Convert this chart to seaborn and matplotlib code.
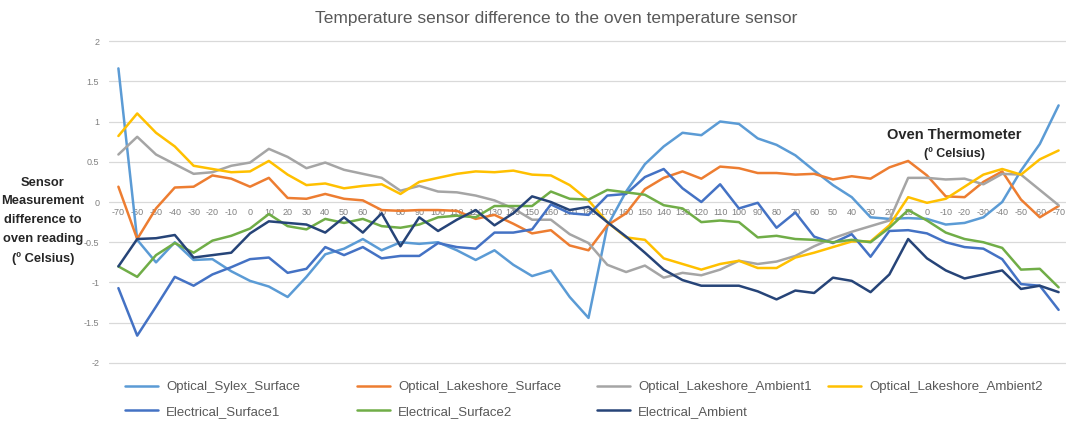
import numpy as np
import pandas as pd
import seaborn as sns
import matplotlib.pyplot as plt

# oven temperature steps: up from -70 to 180, then back down to -70
temps = [-70, -60, -50, -40, -30, -20, -10, 0, 10, 20, 30, 40, 50, 60, 70, 80, 90,
         100, 110, 120, 130, 140, 150, 160, 170, 180,
         170, 160, 150, 140, 130, 120, 110, 100, 90, 80, 70, 60, 50, 40, 30, 20, 10,
         0, -10, -20, -30, -40, -50, -60, -70]

optical_sylex_surface = [1.66, -0.47, -0.75, -0.5, -0.72, -0.71, -0.86, -0.98, -1.05, -1.18,
                         -0.93, -0.65, -0.58, -0.46, -0.6, -0.5, -0.52, -0.5, -0.6, -0.72,
                         -0.6, -0.78, -0.92, -0.85, -1.18, -1.44,
                         -0.3, 0.13, 0.47, 0.69, 0.86, 0.83, 1.0, 0.97, 0.79, 0.71, 0.58, 0.39,
                         0.21, 0.06, -0.19, -0.21, -0.2, -0.21, -0.28, -0.26, -0.19, 0.0, 0.39,
                         0.72, 1.2]
optical_lakeshore_surface = [0.19, -0.46, -0.08, 0.18, 0.19, 0.33, 0.29, 0.19, 0.3, 0.05,
                             0.04, 0.1, 0.04, 0.02, -0.1, -0.11, -0.1, -0.1, -0.11, -0.21,
                             -0.16, -0.27, -0.39, -0.35, -0.54, -0.6,
                             -0.29, -0.14, 0.16, 0.3, 0.38, 0.29, 0.44, 0.42, 0.36, 0.36, 0.34,
                             0.35, 0.28, 0.32, 0.29, 0.43, 0.51, 0.33, 0.07, 0.06, 0.25, 0.38,
                             0.03, -0.19, -0.05]
optical_lakeshore_ambient1 = [0.59, 0.81, 0.59, 0.47, 0.35, 0.37, 0.45, 0.49, 0.66, 0.56,
                              0.42, 0.49, 0.4, 0.35, 0.3, 0.14, 0.2, 0.13, 0.12, 0.08,
                              0.02, -0.08, -0.22, -0.22, -0.4, -0.51,
                              -0.78, -0.87, -0.79, -0.94, -0.88, -0.91, -0.84, -0.73, -0.77,
                              -0.74, -0.67, -0.55, -0.45, -0.37, -0.3, -0.23, 0.3, 0.3, 0.28,
                              0.29, 0.22, 0.35, 0.34, 0.15, -0.04]
optical_lakeshore_ambient2 = [0.82, 1.1, 0.86, 0.69, 0.45, 0.41, 0.37, 0.38, 0.51, 0.34,
                              0.21, 0.23, 0.17, 0.2, 0.22, 0.1, 0.25, 0.3, 0.35, 0.38,
                              0.37, 0.39, 0.34, 0.33, 0.21, 0.02,
                              -0.25, -0.44, -0.47, -0.7, -0.77, -0.84, -0.77, -0.73, -0.82,
                              -0.82, -0.69, -0.63, -0.56, -0.49, -0.49, -0.29, 0.06, -0.01,
                              0.04, 0.19, 0.34, 0.41, 0.34, 0.53, 0.64]
electrical_surface1 = [-1.07, -1.66, -1.3, -0.93, -1.04, -0.9, -0.81, -0.71, -0.69, -0.88,
                       -0.83, -0.56, -0.66, -0.56, -0.7, -0.67, -0.67, -0.51, -0.56, -0.58,
                       -0.38, -0.38, -0.34, -0.03, -0.14, -0.16,
                       0.08, 0.1, 0.31, 0.41, 0.17, 0.0, 0.22, -0.08, -0.01, -0.32, -0.13,
                       -0.43, -0.51, -0.4, -0.68, -0.36, -0.35, -0.39, -0.5, -0.56, -0.58,
                       -0.71, -1.02, -1.04, -1.34]
electrical_surface2 = [-0.8, -0.93, -0.66, -0.51, -0.63, -0.48, -0.42, -0.33, -0.15, -0.3,
                       -0.34, -0.21, -0.26, -0.21, -0.3, -0.32, -0.28, -0.19, -0.17, -0.19,
                       -0.05, -0.05, -0.05, 0.13, 0.04, 0.03,
                       0.15, 0.12, 0.09, -0.04, -0.08, -0.25, -0.23, -0.25, -0.44, -0.42,
                       -0.46, -0.47, -0.5, -0.47, -0.5, -0.32, -0.1, -0.23, -0.38, -0.46,
                       -0.5, -0.57, -0.84, -0.83, -1.06]
electrical_ambient = [-0.8, -0.46, -0.45, -0.41, -0.69, -0.66, -0.63, -0.39, -0.24, -0.26,
                      -0.28, -0.38, -0.19, -0.38, -0.14, -0.55, -0.19, -0.36, -0.22, -0.1,
                      -0.29, -0.14, 0.07, 0.0, -0.1, -0.06,
                      -0.25, -0.43, -0.63, -0.84, -0.97, -1.04, -1.04, -1.04, -1.11, -1.21,
                      -1.1, -1.13, -0.94, -0.98, -1.12, -0.9, -0.46, -0.7, -0.85, -0.95,
                      -0.9, -0.85, -1.08, -1.04, -1.12]

names = ["Optical_Sylex_Surface", "Optical_Lakeshore_Surface", "Optical_Lakeshore_Ambient1",
         "Optical_Lakeshore_Ambient2", "Electrical_Surface1", "Electrical_Surface2",
         "Electrical_Ambient"]
colors = ["#5B9BD5", "#ED7D31", "#A5A5A5", "#FFC000", "#4472C4", "#70AD47", "#264478"]
yticks = [-2, -1.5, -1, -0.5, 0, 0.5, 1, 1.5, 2]
ytick_labels = ["-2", "-1.5", "-1", "-0.5", "0", "0.5", "1", "1.5", "2"]

all_series = [optical_sylex_surface, optical_lakeshore_surface, optical_lakeshore_ambient1,
              optical_lakeshore_ambient2, electrical_surface1, electrical_surface2,
              electrical_ambient]
frames = []
for name, vals in zip(names, all_series):
    frames.append(pd.DataFrame({"step": np.arange(len(temps)), "diff": vals, "sensor": name}))
df = pd.concat(frames, ignore_index=True)

sns.set_style("white")
plt.rcParams['font.family'] = ['Liberation Sans', 'DejaVu Sans']

W, H = 1066, 423
fig = plt.figure(figsize=(W / 100, H / 100), dpi=100)
# a little room above/below +-2 so the outer gridlines are not clipped
ax = fig.add_axes([109 / W, 1 - 365 / H, (1068 - 109) / W, (365 - 39) / H])

sns.lineplot(data=df, x="step", y="diff", hue="sensor", hue_order=names,
             palette=dict(zip(names, colors)), linewidth=1.8, ax=ax)

ax.set_xlim(-0.5, len(temps) - 0.5)
ax.set_ylim(-2.025, 2.025)
ax.set_yticks(yticks)
ax.set_yticklabels(ytick_labels)
ax.set_xticks(np.arange(len(temps)))
ax.set_xticklabels([str(t) for t in temps])
ax.tick_params(axis='x', length=0, pad=4, labelsize=6.5, labelcolor='#808080')
ax.tick_params(axis='y', length=0, pad=7, labelsize=6.5, labelcolor='#808080')
for s in ax.spines.values():
    s.set_visible(False)
ax.spines['bottom'].set_position(('data', 0))
ax.yaxis.grid(True, color='#D9D9D9', linewidth=0.9)
ax.xaxis.grid(False)
ax.set_axisbelow(True)
ax.set_xlabel("")

ax.set_ylabel("Sensor\nMeasurement\ndifference to\noven reading\n(º Celsius)",
              rotation=0, ha='center', va='center', fontsize=9.3, fontweight='bold',
              linespacing=1.75)
ax.yaxis.set_label_coords((43 - 109) / 959, (365 - 221) / 326)

fig.text(954 / W, 1 - 135 / H, "Oven Thermometer", ha='center', va='center',
         fontsize=10.5, fontweight='bold')
fig.text(954 / W, 1 - 154 / H, "(º Celsius)", ha='center', va='center',
         fontsize=9, fontweight='bold')

fig.suptitle("Temperature sensor difference to the oven temperature sensor",
             x=556 / W, y=1 - 18 / H, fontsize=12.5, color='#595959', va='center')

# legend: 4 equal columns like Excel
handles, labels = ax.get_legend_handles_labels()
ax.get_legend().remove()
col_x = [125, 357, 597, 828]
cols = [[0, 4], [1, 5], [2, 6], [3]]
for cx, idx in zip(col_x, cols):
    leg = fig.legend([handles[i] for i in idx], [labels[i] for i in idx],
                     loc='upper left', bbox_to_anchor=(cx / W, 1 - 381 / H),
                     frameon=False, fontsize=9.5, labelcolor='#595959',
                     handlelength=2.5, handletextpad=0.6, labelspacing=0.95,
                     borderpad=0, borderaxespad=0)

fig.savefig("out.png", dpi=100)
